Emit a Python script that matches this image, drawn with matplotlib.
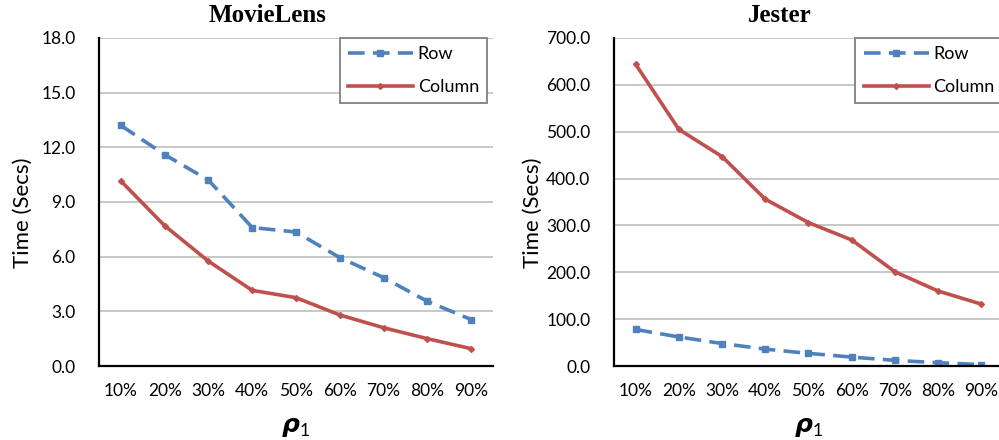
import matplotlib
matplotlib.use("Agg")
import matplotlib.pyplot as plt

plt.rcParams['font.family'] = ['Lato', 'DejaVu Sans']
plt.rcParams['mathtext.fontset'] = 'custom'
plt.rcParams['mathtext.bf'] = 'DejaVu Sans:bold:italic'
plt.rcParams['mathtext.rm'] = 'Lato'

categories = ['10%', '20%', '30%', '40%', '50%', '60%', '70%', '80%', '90%']

movielens_row = [13.2, 11.6, 10.2, 7.6, 7.35, 5.95, 4.85, 3.55, 2.55]
movielens_col = [10.15, 7.7, 5.75, 4.15, 3.75, 2.8, 2.1, 1.5, 0.95]
movielens_yticks = [0, 3, 6, 9, 12, 15, 18]

jester_row = [78, 62, 48, 36, 27, 19, 12, 7, 3]
jester_col = [644, 505, 447, 356, 306, 269, 201, 160, 132]
jester_yticks = [0, 100, 200, 300, 400, 500, 600, 700]

BLUE = '#4F81BD'
RED = '#C0504D'

fig = plt.figure(figsize=(9.99, 4.4), dpi=100)
ax1 = fig.add_axes([99/999, 74/440, 394/999, 328/440])
ax2 = fig.add_axes([614/999, 74/440, 389/999, 328/440])

panels = [
    (ax1, 'MovieLens', movielens_row, movielens_col, movielens_yticks, 0.429, -0.168, 0.985),
    (ax2, 'Jester', jester_row, jester_col, jester_yticks, 0.427, -0.183, 1.0),
]

for ax, title, row, col, yt, tx, ylx, lx in panels:
    x = list(range(len(categories)))
    ax.plot(x, row, color=BLUE, lw=2.6, dashes=(4.6, 2.3), marker='s',
            markersize=5, label='Row', zorder=3)
    ax.plot(x, col, color=RED, lw=2.6, marker='D', markersize=3,
            label='Column', zorder=3)
    ax.set_xlim(-0.5, 8.5)
    ax.set_ylim(yt[0], yt[-1])
    ax.set_yticks(yt)
    ax.set_yticklabels([f'{v:.1f}' for v in yt])
    ax.set_xticks(x)
    ax.set_xticklabels(categories)
    ax.tick_params(axis='both', length=0, labelsize=12.5)
    ax.tick_params(axis='y', pad=17)
    ax.tick_params(axis='x', pad=12)
    ax.grid(axis='y', color='#BFBFBF', lw=1.2)
    ax.set_axisbelow(True)
    for s in ['top', 'right']:
        ax.spines[s].set_visible(False)
    for s in ['left', 'bottom']:
        ax.spines[s].set_linewidth(1.6)
        ax.spines[s].set_color('black')
        ax.spines[s].set_zorder(4)
    ax.set_ylabel('Time (Secs)', fontsize=16)
    ax.yaxis.set_label_coords(ylx, 0.466)
    ax.text(0.5, -0.186, r'$\mathbf{\rho}_{\mathrm{1}}$', transform=ax.transAxes,
            ha='center', va='center', fontsize=18)
    ax.text(tx, 1.07, title, transform=ax.transAxes, ha='center', va='center',
            fontsize=18, fontweight='bold', family='Liberation Serif')
    leg = ax.legend(loc='upper right', bbox_to_anchor=(lx, 1.0),
                    fontsize=13, numpoints=1, handlelength=3.6, handletextpad=0.28,
                    borderaxespad=0, fancybox=False, framealpha=1,
                    edgecolor='#808080', borderpad=0.45, labelspacing=0.95)
    leg.get_frame().set_linewidth(1.3)

fig.savefig('out.png', dpi=100)
